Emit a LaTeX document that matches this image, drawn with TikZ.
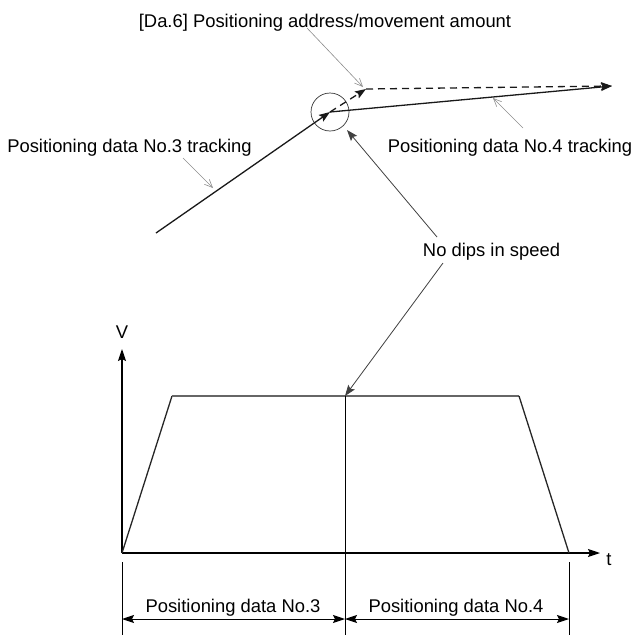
\documentclass[tikz,border=0pt]{standalone}
\usepackage{fontspec}
\setmainfont{Liberation Sans}
\usetikzlibrary{arrows.meta}
\begin{document}
\begin{tikzpicture}[x=1pt,y=-1pt,
  lbl/.style={font=\fontsize{18.4}{22}\selectfont, inner sep=0pt, anchor=base},
  mainln/.style={line width=1.3pt, draw=black!90},
  mainarr/.style={mainln, -{Stealth[length=11pt,width=8pt,inset=2pt]}},
  dashln/.style={line width=1.3pt, draw=black!90, dash pattern=on 7pt off 5pt},
  leader/.style={line width=0.6pt, draw=black!45, -{Straight Barb[length=8pt,width=7pt]}},
  callout/.style={line width=0.8pt, draw=black!75, -{Stealth[length=11pt,width=8pt,inset=2pt]}, shorten >=0pt},
  axis/.style={line width=1.1pt, draw=black, -{Stealth[length=12pt,width=8pt,inset=2pt]}},
  dimarr/.style={line width=1.0pt, draw=black, {Stealth[length=12pt,width=8pt,inset=2pt]}-{Stealth[length=12pt,width=8pt,inset=2pt]}},
  dimln/.style={line width=1.0pt, draw=black},
  prof/.style={line width=1.3pt, draw=black!85}
]
\useasboundingbox (0,0) rectangle (635,635);

% ---- upper part: tracking paths ----
\coordinate (P3s) at (156,233);
\coordinate (C) at (330,112);
\coordinate (K) at (366,89);
\coordinate (E) at (612,86);
\node[circle, draw=black!80, line width=0.7pt, minimum size=38pt, inner sep=0pt] (circ) at (C) {};

\draw[mainarr] (P3s) -- (C);
\draw[mainarr] (C) -- (E);
\draw[dashln, -{Stealth[length=11pt,width=8pt,inset=2pt]}] (C) -- (K);
\draw[dashln, -{Stealth[length=11pt,width=8pt,inset=2pt]}] (K) -- (E);

% labels
\node[lbl] (da6) at (325,27) {[Da.6] Positioning address/movement amount};
\node[lbl] (trk3) at (129.5,152) {Positioning data No.3 tracking};
\node[lbl] (trk4) at (510,152) {Positioning data No.4 tracking};
\node[lbl] (nodips) at (491.5,256) {No dips in speed};

% leaders
\coordinate (da6a) at (307,28);
\coordinate (da6b) at (363,87);
\draw[leader] (da6a) -- (da6b);
\coordinate (t3a) at (183,158);
\coordinate (t3b) at (213,188);
\draw[leader] (t3a) -- (t3b);
\coordinate (t4a) at (523,128);
\coordinate (t4b) at (493,98);
\draw[leader] (t4a) -- (t4b);

% ---- lower part: speed profile ----
\coordinate (O) at (122,553);
\coordinate (Vt) at (122,349);
\coordinate (Tt) at (600,553);
\coordinate (A) at (172,396);
\coordinate (B) at (519,396);
\coordinate (D) at (569,553);
\coordinate (M) at (345,396);
\coordinate (Mb) at (345,635);

\draw[axis] (O) -- (Vt);
\draw[axis] (O) -- (Tt);
\node[lbl] (vlab) at (122,338) {V};
\node[lbl] (tlab) at (609,565) {t};

\draw[prof] (O) -- (A);
\draw[line width=1.3pt, draw=black!60] (A) -- (B);
\draw[prof] (B) -- (D);
\draw[dimln] (M) -- (Mb);

% callouts from "No dips in speed"
\coordinate (nd1) at (437,237);
\coordinate (nd2) at (443,263);
\coordinate (ndt1) at (347,130);
\draw[callout] (nd1) -- (ndt1);
\draw[callout] (nd2) -- (M);

% dimension lines
\coordinate (L1) at (122,562);
\coordinate (L1b) at (122,635);
\coordinate (R1) at (569,562);
\coordinate (R1b) at (569,635);
\draw[dimln] (L1) -- (L1b);
\draw[dimln] (R1) -- (R1b);
\coordinate (dl) at (122,619);
\coordinate (dm) at (345,619);
\coordinate (dr) at (569,619);
\draw[dimarr] (dl) -- (dm);
\draw[dimarr] (dm) -- (dr);
\node[lbl] (pd3) at (233,612) {Positioning data No.3};
\node[lbl] (pd4) at (456,612) {Positioning data No.4};
\end{tikzpicture}
\end{document}
